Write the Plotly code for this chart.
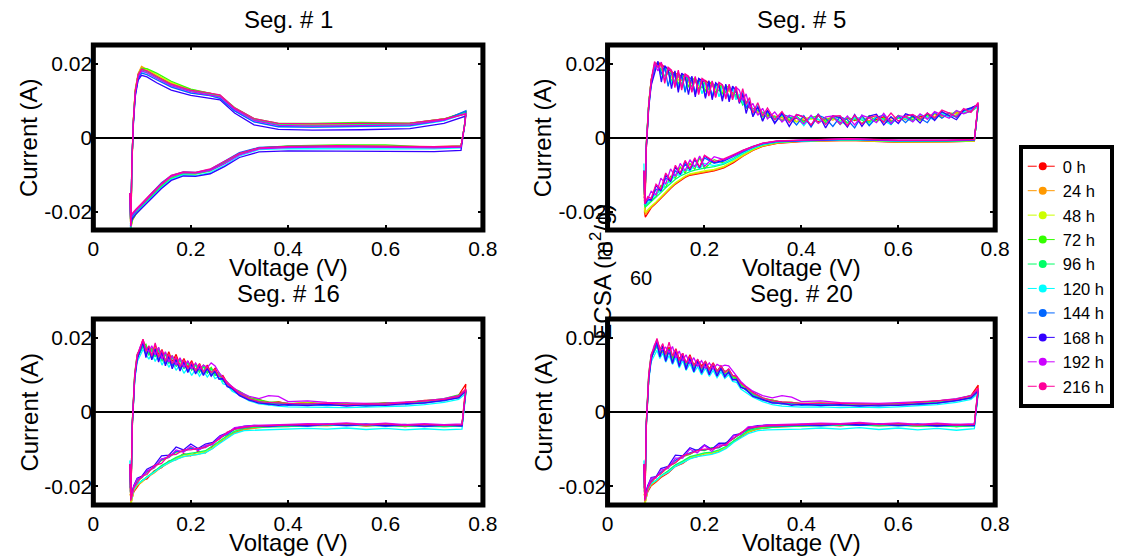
import plotly.graph_objects as go

W, H = 1125, 558
FONT = "Liberation Sans, Arial, Helvetica, sans-serif"

labels = ["0 h", "24 h", "48 h", "72 h", "96 h", "120 h", "144 h", "168 h", "192 h", "216 h"]
colors = ["#FF0000", "#FF9900", "#CCFF00", "#33FF00", "#00FF66",
          "#00FFFF", "#0066FF", "#3300FF", "#CC00FF", "#FF0099"]
titles = ["Seg. # 1", "Seg. # 5", "Seg. # 16", "Seg. # 20"]
x_tickvals = [0, 0.2, 0.4, 0.6, 0.8]
x_ticktext = ["0", "0.2", "0.4", "0.6", "0.8"]
y_tickvals = [-0.02, 0, 0.02]
y_ticktext = ["-0.02", "0", "0.02"]

# ---------------- Seg. # 1 : voltage (V) and current (mA) ----------------
v_seg1 = [0.075, 0.077, 0.079, 0.082, 0.086, 0.092, 0.099, 0.11, 0.13, 0.16, 0.20, 0.24, 0.26, 0.29, 0.33,
          0.38, 0.45, 0.55, 0.65, 0.72, 0.765,
          0.762, 0.755, 0.70, 0.60, 0.50, 0.40, 0.34, 0.30, 0.27, 0.24, 0.21, 0.185, 0.16, 0.14, 0.12,
          0.10, 0.088, 0.08, 0.076]
seg1_0h = [-15, -25, -9, 4, 12.5, 17, 18.9, 18.2, 16.6, 14.6, 12.8, 11.9, 11.2, 7.9, 5.0, 3.7, 3.5, 3.6, 3.8, 5.0, 6.9,
           3, -2.4, -2.6, -2.5, -2.3, -2.5, -2.9, -4.4, -6.8, -8.9, -9.7, -9.6, -10.8, -13.0, -15.6, -18.3, -20.2, -22, -25]
seg1_24h = [-15, -25.5, -9, 4.5, 13, 17.3, 19.2, 18.4, 16.8, 14.7, 12.9, 11.9, 11.2, 7.8, 4.9, 3.6, 3.4, 3.5, 3.7, 4.9, 6.8,
            3, -2.4, -2.6, -2.5, -2.3, -2.5, -2.9, -4.5, -6.9, -9.0, -9.8, -9.7, -10.9, -13.1, -15.8, -18.6, -20.6, -22.5, -25.5]
seg1_48h = [-15, -25, -8.5, 4, 12.5, 17, 18.8, 18.3, 16.9, 14.9, 13.0, 12.0, 11.3, 7.9, 4.9, 3.6, 3.5, 3.6, 3.8, 5.0, 6.9,
            3, -2.3, -2.5, -2.4, -2.2, -2.4, -2.8, -4.4, -6.8, -8.9, -9.8, -9.8, -11.1, -13.3, -16.0, -18.7, -20.5, -22.2, -25]
seg1_72h = [-15, -25, -8, 4, 12.5, 17, 18.7, 18.6, 17.4, 15.2, 13.1, 12.0, 11.4, 8.1, 5.1, 3.8, 3.8, 4.1, 3.9, 5.0, 7.0,
            3, -2.3, -2.7, -2.0, -2.0, -2.3, -2.8, -4.3, -6.6, -8.8, -9.7, -9.9, -11.2, -13.4, -16.1, -18.8, -20.6, -22.3, -25]
seg1_96h = [-15, -24, -8, 4, 12, 16.5, 18.3, 17.8, 16.3, 14.3, 12.6, 11.7, 11.0, 7.7, 4.8, 3.5, 3.3, 3.4, 3.6, 4.8, 6.8,
            3, -2.5, -2.7, -2.6, -2.4, -2.6, -3.0, -4.6, -7.0, -9.0, -9.8, -9.8, -11.0, -13.2, -15.8, -18.5, -20.3, -21.8, -24.5]
seg1_120h = [-15, -24.5, -8, 3.5, 11.5, 16, 17.8, 17.5, 16.0, 13.8, 12.1, 11.3, 10.6, 7.3, 4.3, 3.0, 2.8, 2.9, 3.1, 4.5, 6.5,
             3, -2.8, -3.1, -3.0, -2.9, -3.0, -3.3, -5.0, -7.5, -9.5, -10.3, -10.1, -11.3, -13.6, -16.2, -18.8, -20.4, -21.8, -24]
seg1_144h = [-15, -24, -7.5, 3.5, 11.5, 16, 17.4, 17.0, 15.6, 13.6, 12.0, 11.3, 10.6, 7.2, 4.2, 2.9, 2.8, 2.9, 3.2, 4.7, 7.2,
             3, -2.6, -2.6, -2.5, -2.3, -2.4, -2.7, -4.1, -6.4, -8.6, -9.4, -9.3, -10.3, -12.2, -15.0, -17.8, -19.6, -21.2, -23.5]
seg1_168h = [-15, -23.5, -7.5, 3, 11, 15.5, 16.8, 16.4, 14.8, 12.8, 11.4, 10.5, 10.2, 6.6, 3.4, 2.2, 2.0, 2.1, 2.4, 3.8, 5.8,
             3, -3.5, -3.8, -3.7, -3.6, -3.6, -3.9, -5.4, -7.8, -9.8, -10.5, -10.4, -11.6, -13.8, -16.4, -19.0, -20.6, -22.0, -24]
seg1_192h = [-15, -24, -8, 4, 12, 16.5, 18.0, 17.5, 16.0, 14.0, 12.4, 11.6, 11.0, 7.6, 4.6, 3.3, 3.1, 3.2, 3.4, 4.7, 6.5,
             3, -2.6, -2.8, -2.7, -2.5, -2.7, -3.1, -4.7, -7.0, -8.9, -9.6, -9.5, -10.5, -12.6, -15.2, -17.9, -19.6, -20.8, -22]
seg1_216h = [-15, -24, -8, 4, 12.5, 17, 18.5, 18.0, 16.5, 14.4, 12.8, 12.0, 11.5, 8.0, 5.1, 3.8, 3.7, 3.8, 3.9, 5.0, 6.3,
             3, -2.3, -2.5, -2.4, -2.2, -2.4, -2.8, -4.3, -6.5, -8.5, -9.4, -9.3, -10.2, -12.4, -15.0, -17.6, -19.3, -20.5, -21.5]

# ---------------- Seg. # 5 ----------------
v_seg5 = [0.075, 0.077, 0.080, 0.085, 0.090,
          0.097, 0.104, 0.111, 0.118, 0.125, 0.132, 0.139, 0.146, 0.153, 0.160,
          0.167, 0.174, 0.181, 0.188, 0.195, 0.202, 0.209, 0.216, 0.223, 0.230,
          0.237, 0.244, 0.251, 0.258, 0.265, 0.272, 0.279, 0.286, 0.293, 0.300,
          0.31, 0.32, 0.33, 0.345,
          0.36, 0.375, 0.39, 0.405, 0.42, 0.435, 0.45, 0.465, 0.48, 0.495,
          0.51, 0.525, 0.54, 0.555, 0.57, 0.585, 0.60, 0.615, 0.63, 0.645,
          0.66, 0.675, 0.69, 0.705, 0.72, 0.735, 0.75, 0.765,
          0.757, 0.70, 0.60, 0.50, 0.40, 0.35, 0.32, 0.30, 0.28, 0.26, 0.24, 0.22, 0.20, 0.19, 0.18, 0.17, 0.16,
          0.15, 0.14, 0.13, 0.12, 0.11, 0.10, 0.09, 0.083, 0.078, 0.076]
seg5_0h = [-11, -20, -3, 9, 15.5,
           19.5, 20.3, 19.8, 19.0, 18.4, 18.0, 17.2, 17.2, 16.5, 16.3, 16.0, 15.8, 15.2, 15.2, 14.9,
           15.4, 14.6, 14.5, 14.0, 14.1, 13.8, 13.2, 12.6, 12.0, 11.0, 10.5, 9.5, 9.0, 8.0, 7.8,
           7.0, 6.7, 6.0, 5.8,
           5.4, 4.6, 5.2, 4.4, 5.6, 4.2, 5.0, 5.3, 4.1, 5.2, 4.6, 5.5, 4.3, 4.9, 5.6, 4.4, 5.3, 5.6, 4.6, 5.8,
           5.3, 6.3, 5.8, 6.6, 6.4, 7.2, 7.8, 9.0,
           -1.0, -1.2, -1.3, -0.8, -1.1, -1.6, -2.4, -3.5, -5.0, -6.8, -8.2, -9.0, -9.4, -9.6, -9.8, -10.2, -10.8, -11.6,
           -12.6, -13.8, -15.2, -16.6, -17.8, -19.0, -20.5, -21.5, -20]
seg5_24h = [-10, -19.5, -2.5, 9, 15.5,
            19.3, 20.0, 19.3, 18.4, 17.0, 17.6, 16.8, 16.4, 15.4, 16.0, 15.4, 14.7, 15.3, 14.0, 14.8,
            14.4, 13.7, 14.4, 13.2, 14.0, 13.4, 12.9, 12.6, 11.8, 11.6, 10.4, 10.2, 9.0, 8.6, 7.5,
            6.6, 6.6, 5.6, 5.8,
            4.8, 5.5, 4.3, 5.0, 5.4, 3.9, 5.3, 4.7, 5.6, 4.0, 4.9, 5.2, 4.5, 5.6, 4.1, 5.0, 5.7, 4.8, 5.4, 5.2,
            6.0, 5.5, 6.4, 6.0, 6.8, 6.6, 7.4, 8.8,
            -1.0, -1.2, -1.2, -0.8, -1.0, -1.5, -2.3, -3.4, -4.9, -6.6, -8.0, -8.8, -9.2, -9.4, -9.6, -10.0, -10.6, -11.4,
            -12.4, -13.6, -15.0, -16.4, -17.6, -18.8, -20.0, -20.8, -19.5]
seg5_48h = [-10, -19, -2, 9, 15,
            19.0, 19.8, 18.2, 18.6, 17.6, 16.2, 17.3, 15.5, 16.5, 15.8, 14.8, 15.8, 15.0, 14.2, 15.2,
            13.5, 14.6, 14.0, 13.0, 14.2, 12.6, 13.7, 12.8, 11.2, 11.5, 10.4, 9.8, 8.5, 8.8, 7.2,
            7.0, 6.2, 5.8, 5.3,
            5.6, 4.8, 4.2, 5.4, 4.9, 5.8, 4.3, 5.1, 4.6, 3.8, 5.1, 5.4, 3.9, 5.6, 4.8, 4.0, 5.5, 5.0, 5.7, 4.6,
            5.8, 6.2, 5.4, 6.6, 6.3, 7.0, 7.7, 8.6,
            -0.9, -1.1, -1.2, -0.7, -1.0, -1.4, -2.2, -3.3, -4.7, -6.4, -7.8, -8.6, -9.0, -9.2, -9.4, -9.8, -10.4, -11.2,
            -12.2, -13.4, -14.8, -16.2, -17.4, -18.6, -19.6, -20.2, -19]
seg5_72h = [-9, -18, -1.5, 9.5, 15.5,
            19.5, 20.2, 17.0, 19.0, 18.2, 15.0, 17.8, 14.2, 16.9, 16.4, 13.6, 16.2, 15.4, 13.0, 15.6,
            12.4, 15.0, 14.6, 12.0, 14.6, 11.7, 14.0, 13.4, 11.3, 12.6, 9.6, 10.8, 7.8, 9.2, 7.0,
            8.0, 5.6, 6.4, 4.9,
            6.0, 4.6, 5.8, 4.0, 5.4, 5.9, 4.4, 5.8, 3.5, 5.3, 5.0, 3.8, 5.9, 4.4, 5.2, 3.9, 6.0, 4.9, 5.5, 4.7,
            6.2, 5.0, 6.9, 5.6, 6.0, 7.2, 8.0, 8.7,
            -0.8, -1.0, -1.0, -0.6, -0.9, -1.2, -1.9, -2.8, -4.0, -5.6, -6.9, -6.0, -8.4, -5.5, -8.6, -7.0, -9.6, -8.0,
            -11.0, -10.5, -13.5, -13.0, -16.0, -17.0, -17.8, -18.5, -18]
seg5_96h = [-9, -18, -2, 9, 15,
            19.2, 19.0, 18.5, 16.5, 17.8, 17.2, 15.0, 17.1, 14.3, 16.5, 15.6, 13.7, 15.8, 15.0, 13.3,
            15.2, 12.8, 14.6, 14.0, 12.5, 14.2, 12.0, 13.7, 12.8, 11.2, 11.0, 8.8, 9.8, 8.4, 6.6,
            7.4, 6.8, 5.5, 5.6,
            4.6, 5.4, 5.6, 4.2, 5.4, 4.8, 4.0, 5.3, 5.5, 4.0, 5.2, 4.7, 4.2, 5.5, 5.0, 4.3, 5.2, 5.8, 4.8, 6.1,
            5.6, 5.2, 6.4, 5.9, 7.2, 6.6, 7.0, 8.4,
            -0.8, -1.0, -1.0, -0.6, -0.9, -1.3, -2.0, -3.0, -4.3, -5.9, -7.2, -7.9, -8.3, -8.5, -8.8, -9.2, -9.7, -10.4,
            -11.3, -12.4, -13.6, -14.9, -16.1, -17.2, -18.0, -18.8, -18]
seg5_120h = [-7, -17, -2, 8.5, 14.5,
             18.5, 19.8, 16.0, 18.6, 17.8, 14.5, 17.5, 13.5, 16.8, 12.8, 16.0, 15.4, 12.2, 15.2, 11.8,
             14.6, 14.0, 11.5, 14.2, 11.0, 13.7, 13.0, 10.6, 13.3, 10.2, 11.7, 9.5, 8.2, 10.2, 7.2,
             8.8, 6.0, 7.0, 5.0,
             6.0, 4.2, 5.6, 3.2, 5.6, 5.0, 3.6, 5.8, 4.4, 3.3, 5.4, 5.2, 3.4, 5.7, 4.6, 3.5, 5.8, 5.0, 4.3, 6.2,
             5.5, 4.8, 6.6, 5.5, 6.0, 7.0, 7.6, 8.3,
             -0.8, -0.9, -1.0, -0.6, -0.9, -1.2, -1.9, -2.9, -4.2, -5.8, -7.0, -7.6, -7.0, -8.4, -7.5, -9.0, -8.6, -10.2,
             -10.0, -12.0, -12.4, -14.5, -15.2, -16.8, -17.6, -18.2, -17]
seg5_144h = [-9, -18, -2.5, 8.5, 14.5,
             18.8, 20.4, 17.2, 19.2, 13.8, 17.6, 16.8, 13.0, 17.2, 12.2, 16.4, 15.8, 11.6, 15.6, 15.0,
             11.0, 15.0, 10.8, 14.4, 13.8, 10.5, 14.0, 10.2, 13.5, 12.6, 9.8, 12.2, 8.0, 9.4, 5.8,
             8.2, 4.6, 7.2, 4.0,
             6.3, 5.6, 3.4, 5.9, 2.8, 6.0, 5.2, 3.0, 5.6, 4.8, 2.6, 6.0, 3.2, 5.4, 6.1, 3.6, 5.8, 4.0, 6.0, 5.2,
             4.0, 6.8, 5.2, 6.6, 5.4, 7.3, 7.8, 8.6,
             -0.7, -0.9, -0.9, -0.5, -0.8, -1.1, -1.7, -2.6, -3.8, -5.2, -6.4, -7.0, -5.5, -8.0, -6.0, -8.6, -7.2, -9.8,
             -9.0, -11.6, -11.0, -14.2, -14.0, -16.8, -17.0, -18.0, -17]
seg5_168h = [-9, -18, -3, 8, 14,
             17.5, 20.6, 15.0, 19.4, 18.4, 13.2, 18.0, 12.2, 17.4, 16.6, 11.6, 16.6, 11.0, 16.0, 15.4,
             10.6, 15.4, 10.2, 14.8, 14.0, 9.8, 14.4, 9.6, 13.9, 12.8, 9.2, 11.6, 6.5, 9.7, 5.6,
             8.4, 4.4, 7.4, 3.8,
             6.6, 3.0, 6.2, 5.6, 3.2, 6.4, 2.6, 5.9, 5.4, 2.8, 6.2, 3.0, 5.8, 6.3, 3.4, 5.6, 3.8, 6.4, 5.8, 3.9,
             6.6, 4.6, 7.0, 6.0, 4.8, 7.4, 8.0, 8.9,
             -0.6, -0.8, -0.8, -0.4, -0.7, -1.0, -1.6, -2.4, -3.5, -4.8, -6.2, -6.8, -5.0, -8.2, -5.8, -8.8, -6.5, -10.0,
             -8.0, -12.0, -10.2, -14.5, -13.0, -17.0, -16.5, -17.8, -16]
seg5_192h = [-9, -18, -2, 9, 15,
             20.0, 18.0, 20.4, 15.2, 18.6, 18.0, 14.0, 17.8, 13.4, 16.9, 16.2, 12.5, 16.3, 12.0, 15.7,
             15.0, 11.5, 15.2, 11.0, 14.8, 14.2, 10.8, 14.2, 10.5, 13.6, 12.8, 10.0, 11.8, 8.0, 9.2,
             6.0, 7.9, 5.0, 6.9,
             4.2, 6.0, 5.4, 3.6, 6.0, 3.8, 5.6, 5.8, 3.6, 5.8, 3.4, 6.0, 5.3, 4.0, 6.5, 3.8, 5.9, 5.6, 4.2, 6.4,
             4.9, 7.0, 6.2, 5.2, 7.3, 6.4, 7.2, 9.2,
             -0.6, -0.8, -0.8, -0.4, -0.7, -1.0, -1.6, -2.5, -3.6, -5.0, -6.0, -5.2, -7.8, -5.0, -8.0, -6.0, -9.0, -7.0,
             -10.5, -8.5, -12.6, -11.0, -15.5, -14.5, -16.6, -17.2, -16]
seg5_216h = [-9, -18, -2, 9, 15.5,
             20.5, 19.0, 20.2, 14.6, 19.0, 18.2, 13.5, 18.2, 12.8, 17.2, 16.6, 12.2, 16.5, 11.6, 16.0,
             15.3, 11.2, 15.3, 10.8, 14.9, 14.2, 10.4, 14.4, 10.2, 13.8, 9.6, 13.2, 9.0, 10.8, 6.6,
             9.4, 5.8, 8.0, 4.8,
             7.0, 4.0, 6.2, 5.6, 3.4, 6.1, 3.5, 5.8, 5.9, 3.2, 6.0, 3.6, 5.4, 5.9, 4.2, 6.6, 4.4, 5.8, 6.2, 5.0,
             6.6, 5.3, 7.4, 6.6, 5.6, 7.8, 6.8, 9.5,
             -0.5, -0.7, -0.7, -0.3, -0.6, -0.9, -1.5, -2.4, -3.4, -4.6, -5.8, -6.5, -4.8, -8.0, -5.5, -8.4, -6.2, -9.6,
             -7.5, -11.5, -9.6, -14.0, -12.6, -16.5, -16.0, -17.5, -16]

# ---------------- Seg. # 16 and Seg. # 20 (same voltage grid) ----------------
v_seg16_20 = [0.075, 0.077, 0.080, 0.085, 0.090, 0.096, 0.102, 0.108, 0.114, 0.120, 0.127, 0.134, 0.141, 0.148, 0.155,
              0.162, 0.170, 0.178, 0.186, 0.194, 0.202, 0.210, 0.218, 0.226, 0.234, 0.242, 0.250, 0.258, 0.266, 0.275,
              0.285, 0.30, 0.32, 0.34, 0.36, 0.38, 0.40, 0.44, 0.48, 0.52, 0.56, 0.60, 0.64, 0.68, 0.72, 0.75, 0.765,
              0.757, 0.72, 0.68, 0.64, 0.60, 0.56, 0.52, 0.48, 0.44, 0.40, 0.36, 0.33, 0.31, 0.29, 0.275, 0.26, 0.245,
              0.23, 0.215, 0.20, 0.185, 0.17, 0.155, 0.14, 0.125, 0.11, 0.10, 0.09, 0.083, 0.078, 0.076]
seg16_0h = [-15, -24, -4, 9.5, 15, 17.5, 19.5, 16.5, 17.5, 15.0, 18.0, 15.5, 16.8, 13.8, 16.2, 13.5, 15.5, 12.4, 14.4, 12.0,
            13.8, 11.2, 13.0, 10.8, 12.6, 10.5, 11.8, 9.6, 9.8, 7.8, 6.8, 5.0, 3.6, 3.4, 2.4, 2.8, 2.1, 2.6, 2.0, 2.4,
            1.8, 2.5, 2.3, 3.1, 3.3, 4.5, 7.5,
            -3.6, -3.8, -3.4, -3.9, -3.3, -3.7, -3.2, -3.6, -3.4, -3.8, -3.7, -4.2, -4.6, -5.6, -6.4, -8.2, -9.2, -11.0,
            -10.6, -11.8, -11.2, -12.8, -13.2, -15.0, -15.8, -18.0, -18.4, -20.2, -21.5, -24, -22]
seg16_24h = [-14, -24.5, -3.5, 9.5, 14.5, 16.0, 18.5, 16.0, 17.0, 14.5, 17.5, 14.5, 16.0, 13.2, 15.6, 12.8, 14.6, 12.0, 13.8,
             11.4, 13.0, 10.8, 12.4, 10.4, 12.0, 10.2, 11.2, 9.2, 9.2, 7.4, 6.5, 4.9, 3.5, 3.0, 2.3, 2.5, 2.0, 2.4, 1.9,
             2.3, 1.7, 2.3, 2.2, 2.9, 3.2, 4.3, 6.0,
             -3.7, -3.9, -3.5, -3.8, -3.4, -3.8, -3.3, -3.7, -3.5, -3.9, -3.9, -4.3, -4.7, -5.6, -6.8, -8.0, -9.8, -10.8,
             -11.4, -11.6, -12.0, -12.6, -13.8, -14.8, -16.4, -17.6, -18.8, -19.8, -21.2, -24, -22]
seg16_48h = [-14, -25, -3, 10, 15, 16.5, 18.0, 16.8, 16.2, 16.8, 15.2, 17.0, 14.4, 15.8, 13.6, 15.0, 12.8, 14.2, 12.0, 13.4,
             11.6, 12.8, 11.0, 12.2, 10.6, 11.8, 10.0, 10.4, 8.4, 8.2, 6.2, 5.4, 3.7, 3.1, 2.5, 2.6, 2.2, 2.5, 2.0, 2.2,
             1.9, 2.2, 2.4, 2.8, 3.4, 4.1, 5.6,
             -3.6, -3.7, -3.6, -3.6, -3.5, -3.5, -3.4, -3.4, -3.5, -3.6, -3.8, -3.9, -4.2, -5.2, -6.6, -7.8, -9.6, -10.6,
             -11.2, -11.4, -11.6, -12.4, -13.6, -14.6, -16.2, -17.4, -18.6, -19.6, -21.0, -24.5, -22]
seg16_72h = [-14, -23.5, -2.5, 10.5, 15.5, 17.0, 17.8, 18.2, 15.5, 17.2, 15.0, 17.2, 14.0, 16.0, 13.5, 15.2, 12.6, 14.4, 12.0,
             13.6, 11.5, 13.0, 11.0, 12.6, 10.8, 12.0, 10.0, 10.6, 8.6, 8.0, 6.4, 5.6, 3.9, 3.3, 2.7, 2.6, 2.4, 2.3, 2.4,
             2.1, 2.2, 2.3, 2.6, 3.0, 3.6, 4.6, 5.8,
             -3.5, -3.6, -3.4, -3.5, -3.3, -3.4, -3.2, -3.3, -3.4, -3.5, -3.6, -3.8, -4.0, -4.6, -5.8, -7.0, -8.4, -9.2,
             -10.0, -9.6, -10.6, -10.8, -12.2, -13.0, -15.0, -16.2, -17.6, -18.6, -20.2, -23, -20]
seg16_96h = [-14, -23, -3, 9.5, 14.5, 16.0, 17.5, 17.6, 15.2, 16.6, 14.8, 16.8, 13.6, 15.6, 13.0, 14.8, 12.2, 14.0, 11.6,
             13.2, 11.2, 12.6, 10.6, 12.2, 10.4, 11.6, 9.8, 10.2, 8.2, 7.8, 6.0, 5.2, 3.5, 2.9, 2.3, 2.2, 2.0, 2.1, 1.9,
             1.8, 1.8, 2.0, 2.2, 2.6, 3.2, 4.0, 5.4,
             -3.8, -3.9, -3.8, -3.8, -3.7, -3.7, -3.6, -3.6, -3.7, -3.8, -4.0, -4.1, -4.4, -5.2, -6.4, -7.8, -9.2, -10.4,
             -10.8, -11.2, -11.4, -12.2, -13.2, -14.4, -16.0, -17.4, -18.4, -19.4, -20.8, -23.5, -21]
seg16_120h = [-13, -22.5, -4, 8.5, 13.5, 15.0, 16.8, 15.6, 14.2, 15.8, 13.6, 15.4, 12.6, 14.4, 12.0, 13.6, 11.2, 12.8, 10.4,
              12.0, 9.8, 11.6, 9.6, 11.2, 9.4, 10.8, 9.0, 9.6, 7.6, 7.2, 5.6, 4.6, 3.0, 2.2, 1.8, 1.6, 1.4, 1.3, 1.4,
              1.2, 1.3, 1.4, 1.6, 2.0, 2.6, 3.4, 5.0,
              -4.6, -4.8, -4.5, -4.8, -4.4, -4.7, -4.3, -4.6, -4.4, -4.6, -4.7, -4.8, -5.0, -5.8, -7.0, -8.4, -9.8, -11.0,
              -11.4, -11.8, -12.0, -12.8, -13.6, -14.8, -16.2, -17.4, -18.4, -19.4, -20.8, -23.5, -21]
seg16_144h = [-14, -23, -3, 9, 14.5, 16.2, 18.4, 15.2, 17.2, 14.2, 16.6, 14.0, 15.6, 13.0, 14.8, 12.4, 14.0, 11.6, 13.2,
              11.0, 12.6, 10.6, 12.0, 10.2, 11.6, 10.0, 10.8, 9.0, 8.8, 7.0, 6.2, 4.6, 3.3, 2.6, 2.0, 2.2, 1.8, 2.0, 1.7,
              1.9, 1.6, 1.9, 2.0, 2.5, 3.0, 3.9, 5.6,
              -3.8, -3.6, -3.9, -3.5, -3.8, -3.4, -3.7, -3.4, -3.8, -3.6, -3.9, -3.8, -4.2, -4.6, -6.0, -6.8, -8.6, -9.4,
              -10.2, -9.8, -10.6, -10.6, -12.0, -12.8, -14.8, -16.0, -17.4, -18.2, -20.0, -22.5, -20]
seg16_168h = [-14, -23.5, -3.5, 9, 14, 16.8, 18.8, 14.6, 17.6, 14.0, 17.0, 13.4, 16.2, 12.4, 15.0, 11.6, 14.2, 11.0, 13.6,
              10.6, 12.8, 10.2, 12.2, 9.8, 11.8, 9.6, 11.0, 8.8, 9.0, 6.8, 6.4, 4.4, 3.2, 2.4, 2.2, 1.8, 2.0, 1.7, 2.1,
              1.6, 2.0, 1.8, 2.3, 2.4, 3.2, 3.8, 5.8,
              -3.7, -3.4, -3.8, -3.3, -3.7, -3.2, -3.6, -3.2, -3.7, -3.4, -3.8, -3.6, -3.8, -4.4, -5.6, -6.4, -8.2, -8.6,
              -9.8, -8.6, -10.2, -9.4, -11.6, -11.8, -14.4, -15.4, -17.2, -17.8, -19.8, -22.5, -20]
seg16_192h = [-14, -23, -3, 10, 15, 17.5, 19.2, 17.0, 16.2, 17.8, 15.4, 17.4, 14.2, 16.2, 13.4, 15.2, 12.6, 14.6, 12.0,
              13.8, 11.6, 13.2, 11.4, 12.6, 12.0, 13.2, 12.4, 10.6, 9.4, 8.0, 6.8, 5.4, 4.2, 3.6, 4.4, 4.2, 2.8, 3.0, 2.6,
              2.4, 2.3, 2.4, 2.7, 3.0, 3.6, 4.4, 6.0,
              -3.2, -3.4, -3.1, -3.4, -3.0, -3.3, -2.9, -3.2, -3.1, -3.3, -3.4, -3.6, -3.9, -4.2, -5.8, -6.6, -8.8, -9.0,
              -10.4, -9.2, -10.8, -10.2, -12.2, -12.6, -15.0, -15.8, -17.6, -18.0, -20.0, -23, -20]
seg16_216h = [-14, -24, -3, 10, 15.5, 17.0, 19.6, 16.4, 17.8, 15.0, 18.6, 14.8, 16.6, 13.6, 15.6, 13.0, 14.8, 12.2, 14.0,
              11.6, 13.4, 11.0, 12.8, 10.8, 12.2, 10.6, 11.4, 9.6, 9.4, 7.6, 6.6, 5.0, 3.6, 2.8, 2.6, 2.4, 2.3, 2.2, 2.4,
              2.0, 2.2, 2.1, 2.5, 2.8, 3.4, 4.2, 6.2,
              -3.4, -3.6, -3.3, -3.6, -3.2, -3.5, -3.1, -3.4, -3.3, -3.5, -3.6, -3.8, -4.1, -4.6, -5.4, -7.2, -8.4, -9.6,
              -9.8, -10.2, -10.2, -11.4, -11.6, -13.8, -14.4, -16.8, -17.2, -19.0, -20.4, -23.5, -21]

seg20_0h = [-15, -24.5, -4, 9, 15, 17.0, 19.0, 17.2, 16.6, 16.0, 17.4, 15.0, 17.0, 14.2, 15.8, 13.0, 15.4, 12.6, 14.0, 12.4,
            13.6, 11.6, 13.2, 11.0, 12.4, 10.8, 11.4, 9.8, 9.6, 7.6, 6.6, 5.2, 3.4, 3.2, 2.6, 2.6, 2.2, 2.4, 2.1, 2.2,
            1.9, 2.4, 2.4, 3.0, 3.4, 4.4, 7.2,
            -3.5, -3.9, -3.3, -3.8, -3.4, -3.6, -3.2, -3.7, -3.3, -3.7, -3.8, -4.1, -4.5, -5.4, -6.6, -8.0, -9.6, -10.6,
            -11.2, -11.2, -12.0, -12.4, -13.8, -14.6, -16.4, -17.6, -18.8, -19.8, -21.4, -24, -22]
seg20_24h = [-14, -25, -3.5, 9, 14.5, 16.4, 18.0, 16.6, 16.0, 15.2, 16.8, 14.6, 16.2, 13.6, 15.0, 12.6, 14.6, 12.0, 13.4,
             11.8, 13.0, 11.0, 12.6, 10.6, 11.8, 10.4, 11.0, 9.4, 9.2, 7.4, 6.4, 5.0, 3.4, 2.9, 2.4, 2.4, 2.1, 2.3, 2.0,
             2.1, 1.8, 2.2, 2.2, 2.8, 3.2, 4.2, 5.8,
             -3.6, -3.8, -3.6, -3.7, -3.5, -3.7, -3.4, -3.6, -3.5, -3.8, -3.9, -4.2, -4.6, -5.4, -6.6, -7.8, -9.6, -10.4,
             -11.2, -11.2, -11.8, -12.4, -13.6, -14.6, -16.2, -17.4, -18.6, -19.6, -21.0, -24, -22]
seg20_48h = [-14, -25, -3, 9.5, 15, 16.8, 18.4, 15.6, 17.4, 14.8, 16.6, 14.0, 15.8, 13.2, 15.2, 12.4, 14.2, 11.8, 13.4,
             11.2, 12.8, 10.8, 12.2, 10.4, 11.6, 10.2, 10.8, 9.2, 9.0, 7.2, 6.2, 4.8, 3.4, 2.8, 2.3, 2.3, 2.0, 2.2, 1.9,
             2.0, 1.8, 2.1, 2.3, 2.7, 3.2, 4.0, 5.4,
             -3.6, -3.7, -3.5, -3.7, -3.4, -3.6, -3.4, -3.5, -3.4, -3.6, -3.8, -4.0, -4.3, -5.2, -6.4, -7.8, -9.4, -10.4,
             -11.0, -11.2, -11.6, -12.2, -13.4, -14.4, -16.0, -17.2, -18.4, -19.4, -20.8, -24.5, -22]
seg20_72h = [-14, -23.5, -2.5, 10.5, 15.5, 17.2, 18.6, 16.4, 17.6, 15.4, 17.0, 14.6, 16.4, 13.8, 15.6, 13.0, 14.8, 12.4, 14.0,
             11.8, 13.4, 11.4, 12.8, 11.0, 12.2, 10.8, 11.4, 9.6, 9.2, 7.6, 6.6, 5.2, 3.8, 3.2, 2.6, 2.6, 2.3, 2.4, 2.2,
             2.2, 2.0, 2.3, 2.5, 2.9, 3.5, 4.4, 5.9,
             -3.4, -3.6, -3.3, -3.5, -3.2, -3.4, -3.1, -3.3, -3.3, -3.4, -3.6, -3.8, -4.0, -4.8, -5.6, -7.2, -8.2, -9.6,
             -9.6, -10.4, -10.2, -11.4, -12.0, -13.6, -14.8, -16.6, -17.4, -19.0, -20.0, -23, -20]
seg20_96h = [-14, -23, -3, 9.5, 14.5, 16.2, 17.6, 16.0, 16.4, 15.0, 16.4, 14.0, 15.8, 13.4, 14.8, 12.6, 14.0, 12.0, 13.2,
             11.4, 12.6, 10.8, 12.0, 10.6, 11.4, 10.2, 10.6, 9.2, 8.8, 7.2, 6.0, 4.8, 3.4, 2.8, 2.3, 2.2, 2.0, 2.1, 1.8,
             1.9, 1.8, 2.0, 2.2, 2.6, 3.1, 4.0, 5.5,
             -3.7, -3.9, -3.7, -3.8, -3.6, -3.7, -3.5, -3.6, -3.6, -3.8, -3.9, -4.1, -4.4, -5.0, -6.4, -7.6, -9.2, -10.2,
             -10.8, -11.0, -11.4, -12.0, -13.2, -14.2, -15.8, -17.2, -18.4, -19.2, -20.8, -23.5, -21]
seg20_120h = [-13, -22.5, -4, 8.5, 13.5, 15.2, 16.6, 14.4, 15.8, 13.4, 15.2, 12.8, 14.6, 11.8, 13.8, 11.2, 13.0, 10.6, 12.2,
              10.0, 11.8, 9.6, 11.2, 9.2, 10.8, 9.0, 10.0, 8.2, 8.0, 6.2, 5.4, 4.0, 2.8, 2.0, 1.6, 1.5, 1.3, 1.4, 1.2,
              1.3, 1.2, 1.4, 1.6, 2.0, 2.6, 3.4, 5.0,
              -4.5, -4.9, -4.4, -4.8, -4.3, -4.7, -4.2, -4.6, -4.3, -4.6, -4.6, -4.8, -5.0, -5.8, -7.0, -8.2, -9.8, -10.8,
              -11.4, -11.6, -12.0, -12.6, -13.6, -14.6, -16.2, -17.2, -18.4, -19.2, -20.8, -23.5, -21]
seg20_144h = [-14, -23, -3, 9, 14.5, 16.6, 18.2, 15.0, 17.0, 14.0, 16.4, 13.4, 15.8, 12.6, 15.0, 12.0, 14.2, 11.4, 13.4,
              10.8, 12.8, 10.4, 12.2, 10.0, 11.6, 9.8, 10.6, 8.8, 8.6, 6.8, 6.0, 4.4, 3.2, 2.6, 2.1, 2.1, 1.8, 2.0, 1.7,
              1.8, 1.6, 1.9, 2.0, 2.4, 3.0, 3.8, 5.6,
              -3.7, -3.5, -3.8, -3.4, -3.7, -3.3, -3.6, -3.3, -3.7, -3.5, -3.8, -3.7, -4.0, -4.6, -5.8, -7.0, -8.4, -9.6,
              -9.8, -10.2, -10.2, -11.0, -11.8, -13.0, -14.6, -16.2, -17.2, -18.4, -19.8, -22.5, -20]
seg20_168h = [-14, -23.5, -3.5, 9, 14, 17.0, 19.0, 14.8, 17.8, 13.6, 16.8, 13.0, 16.4, 12.2, 15.4, 11.4, 14.6, 10.8, 13.8,
              10.4, 13.0, 10.0, 12.4, 9.6, 11.8, 9.4, 10.8, 8.6, 8.8, 6.6, 6.2, 4.2, 3.4, 2.4, 2.4, 1.8, 2.1, 1.7, 2.0,
              1.6, 1.9, 1.8, 2.2, 2.4, 3.1, 3.8, 5.8,
              -3.6, -3.3, -3.7, -3.2, -3.6, -3.1, -3.5, -3.1, -3.6, -3.3, -3.6, -3.5, -3.7, -4.2, -5.8, -6.2, -8.4, -8.4,
              -10.0, -8.8, -10.4, -9.6, -11.8, -11.6, -14.6, -15.2, -17.4, -17.6, -19.8, -22.5, -20]
seg20_192h = [-14, -23, -3, 10, 15, 17.8, 19.4, 16.6, 16.8, 17.4, 16.0, 17.6, 14.6, 16.4, 13.8, 15.4, 13.0, 14.6, 12.4,
              13.8, 11.8, 13.2, 11.6, 12.8, 12.2, 12.6, 12.4, 11.0, 9.6, 8.2, 7.0, 5.6, 4.4, 3.8, 4.4, 4.0, 2.8, 3.0, 2.5,
              2.4, 2.3, 2.5, 2.8, 3.0, 3.6, 4.4, 6.2,
              -3.1, -3.3, -3.0, -3.3, -2.9, -3.2, -2.8, -3.1, -3.0, -3.2, -3.3, -3.5, -3.8, -4.0, -6.0, -6.4, -9.0, -8.8,
              -10.6, -9.0, -11.0, -10.0, -12.4, -12.4, -15.2, -15.6, -17.8, -17.8, -20.2, -23, -20]
seg20_216h = [-14, -24, -3, 10, 15.5, 17.2, 19.8, 16.8, 18.4, 15.4, 18.8, 15.0, 16.8, 13.8, 15.8, 13.2, 15.0, 12.4, 14.2,
              11.8, 13.6, 11.2, 13.0, 10.8, 12.4, 10.6, 11.6, 9.8, 9.6, 7.8, 6.8, 5.2, 3.8, 3.0, 2.7, 2.5, 2.3, 2.3, 2.4,
              2.1, 2.2, 2.2, 2.6, 2.9, 3.4, 4.3, 6.4,
              -3.3, -3.5, -3.2, -3.5, -3.1, -3.4, -3.0, -3.3, -3.2, -3.4, -3.5, -3.7, -4.0, -4.4, -5.6, -7.0, -8.6, -9.4,
              -10.0, -10.0, -10.4, -11.2, -11.8, -13.6, -14.6, -16.6, -17.4, -18.8, -20.6, -23.5, -21]

panels = [
    (v_seg1, [seg1_0h, seg1_24h, seg1_48h, seg1_72h, seg1_96h, seg1_120h, seg1_144h, seg1_168h, seg1_192h, seg1_216h]),
    (v_seg5, [seg5_0h, seg5_24h, seg5_48h, seg5_72h, seg5_96h, seg5_120h, seg5_144h, seg5_168h, seg5_192h, seg5_216h]),
    (v_seg16_20, [seg16_0h, seg16_24h, seg16_48h, seg16_72h, seg16_96h, seg16_120h, seg16_144h, seg16_168h,
                  seg16_192h, seg16_216h]),
    (v_seg16_20, [seg20_0h, seg20_24h, seg20_48h, seg20_72h, seg20_96h, seg20_120h, seg20_144h, seg20_168h,
                  seg20_192h, seg20_216h]),
]

# plot boxes in pixels: left, right, top, bottom
boxes = [(89, 486, 45, 230), (613, 1008, 45, 230), (89, 486, 319, 505), (613, 1008, 319, 505)]

fig = go.Figure()

for p, (volts, series) in enumerate(panels):
    n = p + 1
    xa = "x" if n == 1 else f"x{n}"
    ya = "y" if n == 1 else f"y{n}"
    for k, cur in enumerate(series):
        m = min(len(volts), len(cur))
        fig.add_trace(go.Scatter(
            x=volts[:m], y=[c / 1000.0 for c in cur[:m]],
            mode="lines", line=dict(color=colors[k], width=1.3),
            showlegend=False, hoverinfo="skip", xaxis=xa, yaxis=ya))

# legend-only entries (dashed line with circle marker)
for k in range(10):
    fig.add_trace(go.Scatter(
        x=[None], y=[None], mode="lines+markers", name=labels[k],
        line=dict(color=colors[k], dash="dash", width=1),
        marker=dict(symbol="circle", size=8, color=colors[k]),
        showlegend=True, xaxis="x4", yaxis="y4"))

layout = dict(
    width=W, height=H, autosize=False,
    margin=dict(l=0, r=0, t=0, b=0, pad=0),
    paper_bgcolor="white", plot_bgcolor="white",
    font=dict(family=FONT, color="black"),
    legend=dict(x=1032 / W, y=1 - 145 / H, xanchor="left", yanchor="top",
                bordercolor="black", borderwidth=4, bgcolor="white",
                font=dict(family=FONT, size=16.5, color="black"),
                itemwidth=30, tracegroupgap=0),
)

shapes = []
annotations = []
for p, (l, r, t, b) in enumerate(boxes):
    n = p + 1
    sx = "" if n == 1 else str(n)
    layout[f"xaxis{sx}"] = dict(
        domain=[l / W, r / W], range=[0, 0.8], anchor=f"y{sx}",
        tickvals=x_tickvals, ticktext=x_ticktext, ticks="inside", ticklen=5, tickwidth=2,
        tickcolor="black", showline=True, linewidth=1, linecolor="black", mirror="allticks",
        showgrid=False, zeroline=False, fixedrange=True,
        tickfont=dict(family=FONT, size=21, color="black"))
    layout[f"yaxis{sx}"] = dict(
        domain=[1 - b / H, 1 - t / H], range=[-0.025, 0.025], anchor=f"x{sx}",
        tickvals=y_tickvals, ticktext=y_ticktext, ticks="inside", ticklen=5, tickwidth=2,
        tickcolor="black", showline=True, linewidth=1, linecolor="black", mirror="allticks",
        showgrid=False, zeroline=True, zerolinecolor="black", zerolinewidth=1.5, fixedrange=True,
        ticklabelstandoff=-4,
        tickfont=dict(family=FONT, size=21, color="black"))
    shapes.append(dict(type="rect", xref=f"x{sx} domain", yref=f"y{sx} domain",
                       x0=0, x1=1, y0=0, y1=1, line=dict(color="black", width=5), layer="above"))
    cx = (l + r) / 2
    annotations.append(dict(text=titles[p], x=cx / W, y=1 - (t - 26) / H, xref="paper", yref="paper",
                            xanchor="center", yanchor="middle", showarrow=False,
                            font=dict(family=FONT, size=24, color="black")))
    annotations.append(dict(text="Voltage (V)", x=cx / W, y=1 - (b + 37) / H, xref="paper", yref="paper",
                            xanchor="center", yanchor="middle", showarrow=False,
                            font=dict(family=FONT, size=24, color="black")))
    annotations.append(dict(text="Current (A)", x=(l - 66) / W, y=1 - ((t + b) / 2) / H, xref="paper",
                            yref="paper", xanchor="center", yanchor="middle", showarrow=False, textangle=-90,
                            font=dict(family=FONT, size=24, color="black")))

# stray text from an underlying (hidden) ECSA axis
annotations.append(dict(text="ECSA (m<sup>2</sup>/g)", x=606 / W, y=1 - 272 / H, xref="paper", yref="paper",
                        xanchor="center", yanchor="middle", showarrow=False, textangle=-90,
                        font=dict(family=FONT, size=24, color="black")))
annotations.append(dict(text="60", x=647 / W, y=1 - 278 / H, xref="paper", yref="paper",
                        xanchor="center", yanchor="middle", showarrow=False,
                        font=dict(family=FONT, size=20, color="black")))

layout["shapes"] = shapes
layout["annotations"] = annotations
fig.update_layout(**layout)

fig.write_html("out.html", config={"displayModeBar": False},
               post_script="document.body.style.margin='0px';document.body.style.padding='0px';")
